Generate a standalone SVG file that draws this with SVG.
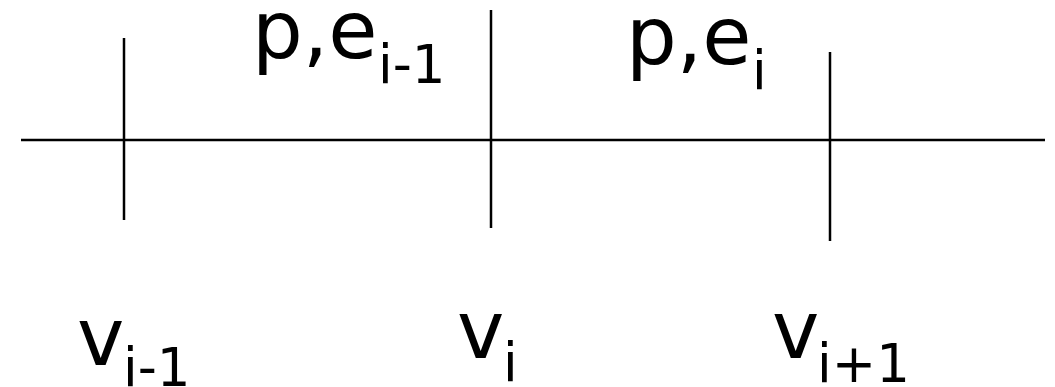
<svg xmlns="http://www.w3.org/2000/svg" width="1055" height="387" viewBox="0 0 1055 387">
<style>
.ln{stroke:#000;stroke-width:2.5;fill:none}
.t{font-family:"DejaVu Sans",sans-serif;font-size:80px;fill:#000}
.s{font-size:53px}
</style>
<rect width="1055" height="387" fill="#fff"/>
<g id="connectors">
<line class="ln" x1="21" y1="140" x2="1045" y2="140"/>
<line class="ln" x1="124" y1="38" x2="124" y2="220"/>
<line class="ln" x1="491" y1="10" x2="491" y2="228"/>
<line class="ln" x1="830" y1="52" x2="830" y2="241"/>
</g>
<g id="label-e-im1"><text class="t" x="252" y="58">p,e<tspan class="s" x="378" y="83">i-1</tspan></text></g>
<g id="label-e-i"><text class="t" x="626" y="64">p,e<tspan class="s" x="752" y="89">i</tspan></text></g>
<g id="label-v-im1"><text class="t" x="77" y="365">v<tspan class="s" x="123" y="386">i-1</tspan></text></g>
<g id="label-v-i"><text class="t" x="457" y="358">v<tspan class="s" x="503" y="381">i</tspan></text></g>
<g id="label-v-ip1"><text class="t" x="772" y="358">v<tspan class="s" x="817" y="382">i+1</tspan></text></g>
</svg>
